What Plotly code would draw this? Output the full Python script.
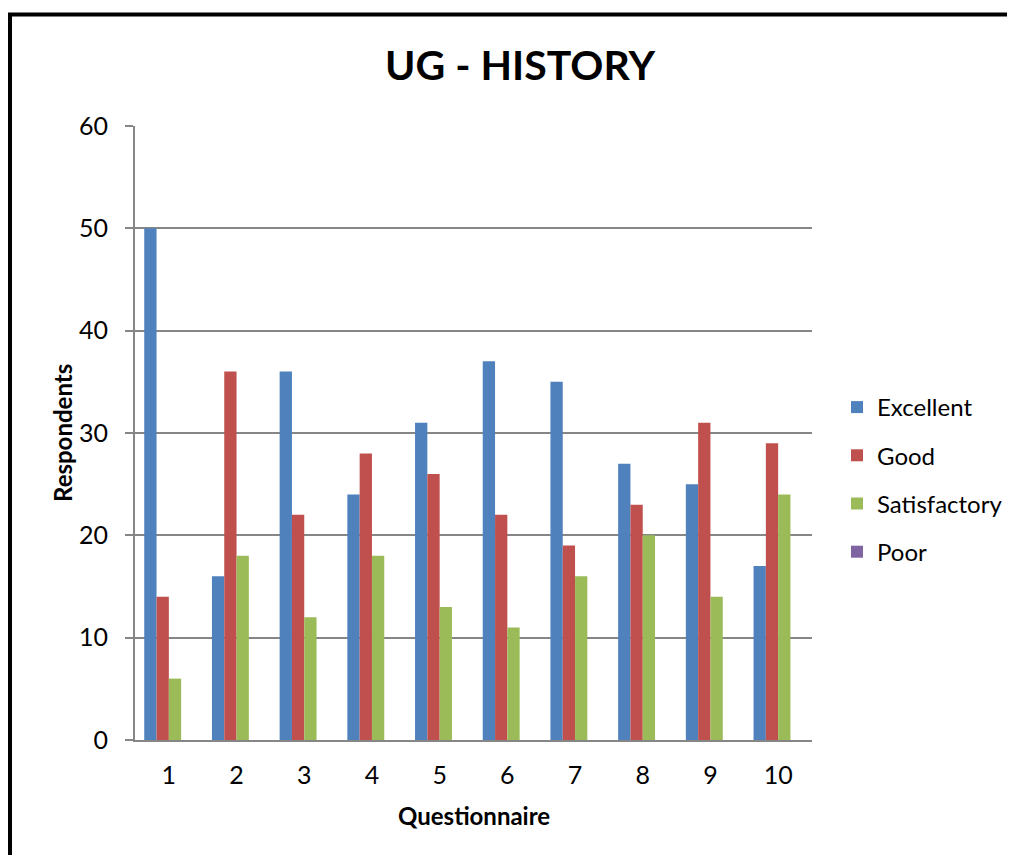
import plotly.graph_objects as go

categories = ["1", "2", "3", "4", "5", "6", "7", "8", "9", "10"]
excellent = [50, 16, 36, 24, 31, 37, 35, 27, 25, 17]
good = [14, 36, 22, 28, 26, 22, 19, 23, 31, 29]
satisfactory = [6, 18, 12, 18, 13, 11, 16, 20, 14, 24]
poor = [0, 0, 0, 0, 0, 0, 0, 0, 0, 0]

series = [
    ("Excellent", excellent, "#4F81BD"),
    ("Good", good, "#C0504D"),
    ("Satisfactory", satisfactory, "#9BBB59"),
    ("Poor", poor, "#8064A2"),
]

FONT = "Lato, Carlito, 'Open Sans', sans-serif"

fig = go.Figure()
for name, vals, col in series:
    fig.add_trace(go.Bar(
        x=categories, y=vals, name=name, legendgroup=name,
        marker=dict(color=col, line=dict(width=0)),
    ))

# page body has an 8px margin; work in page pixels and shift
OFF = 8
W, H = 1015 - OFF, 855 - OFF
PL, PR, PT, PB = 135, 812, 126, 740  # plot area in page pixels
l, r, t, b = PL - OFF, W - (PR - OFF), PT - OFF, H - (PB - OFF)
pw, ph = PR - PL, PB - PT

def px_x(x):
    return (x - PL) / pw

def px_y(y):
    return (PB - y) / ph

fig.update_layout(
    width=W, height=H,
    margin=dict(l=l, r=r, t=t, b=b, autoexpand=False),
    paper_bgcolor="white", plot_bgcolor="white",
    barmode="group", bargap=0.273, bargroupgap=0,
    font=dict(family=FONT, color="black", size=24),
    showlegend=True,
    legend=dict(x=px_x(837), xanchor="left", y=px_y(385), yanchor="top",
                font=dict(size=24, family=FONT, color="black"),
                tracegroupgap=14, traceorder="grouped",
                itemwidth=30, bgcolor="rgba(0,0,0,0)"),
    xaxis=dict(
        showline=True, linecolor="#868686", linewidth=2,
        ticks="", tickfont=dict(size=25, family=FONT),
        ticklabelstandoff=12,
        showgrid=False,
    ),
    yaxis=dict(
        range=[0, 60], dtick=10,
        showline=True, linecolor="#868686", linewidth=2,
        ticks="outside", ticklen=8, tickcolor="#868686", tickwidth=2,
        tickfont=dict(size=25, family=FONT),
        ticklabelstandoff=12,
        showgrid=True, gridcolor="#868686", gridwidth=2,
        zeroline=False,
    ),
    annotations=[
        dict(text="<b>UG - HISTORY</b>", xref="paper", yref="paper",
             x=px_x(520), y=px_y(65), xanchor="center", yanchor="middle",
             showarrow=False, font=dict(size=41, family=FONT, color="black")),
        dict(text="<b>Questionnaire</b>", xref="paper", yref="paper",
             x=px_x(474), y=px_y(815), xanchor="center", yanchor="middle",
             showarrow=False, font=dict(size=24, family=FONT, color="black")),
        dict(text="<b>Respondents</b>", xref="paper", yref="paper",
             x=px_x(62), y=px_y(433), xanchor="center", yanchor="middle",
             textangle=-90,
             showarrow=False, font=dict(size=24, family=FONT, color="black")),
    ],
    shapes=[dict(
        type="rect", xref="paper", yref="paper",
        x0=px_x(10), x1=px_x(1015 + 60),
        y0=px_y(855 + 60), y1=px_y(14.5),
        line=dict(color="black", width=4), fillcolor="rgba(0,0,0,0)",
        layer="above",
    )],
)

fig.write_html("out.html")
